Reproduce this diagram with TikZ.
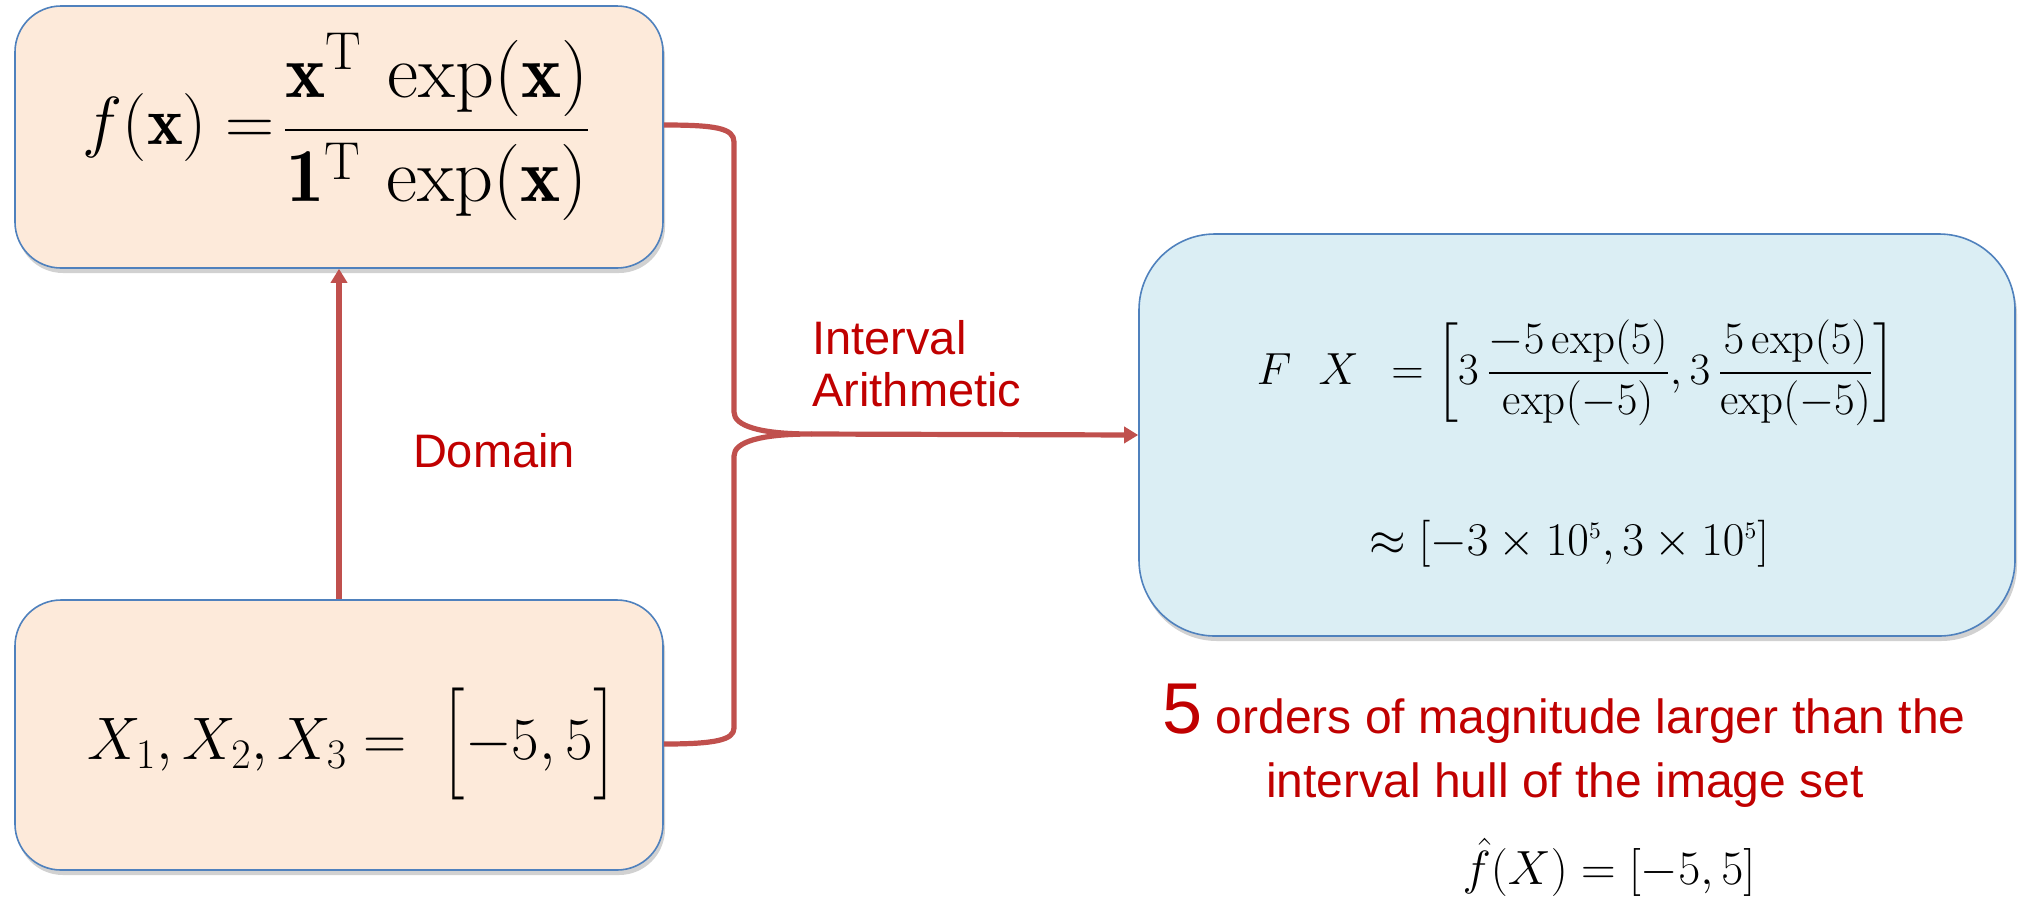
\RequirePackage{fix-cm}
\documentclass[tikz,border=0pt]{standalone}
\usepackage{amsmath}
\usepackage{fontspec}
\usepackage{graphicx}
\newfontfamily\arialf{Liberation Sans}
\usetikzlibrary{arrows.meta,shadows}
\definecolor{peach}{RGB}{253,234,218}
\definecolor{paleblue}{RGB}{219,238,244}
\definecolor{boxline}{RGB}{79,129,189}
\definecolor{connred}{RGB}{192,80,77}
\definecolor{textred}{RGB}{192,0,0}
\newcommand{\tallbrL}{\mathopen{\vcenter{\hbox{\scalebox{1}[1.25]{$\bigl[$}}}}}
\newcommand{\tallbrR}{\mathclose{\vcenter{\hbox{\scalebox{1}[1.25]{$\bigr]$}}}}}
\begin{document}
\begin{tikzpicture}[x=0.5pt,y=-0.5pt,
  shadowed/.style={drop shadow={shadow xshift=1pt,shadow yshift=-2.5pt,fill=black,opacity=0.18}},
  peachbox/.style={draw=boxline,line width=0.8pt,fill=peach,rounded corners=23pt,inner sep=0pt,shadowed},
  bluebox/.style={draw=boxline,line width=0.8pt,fill=paleblue,rounded corners=38pt,inner sep=0pt,shadowed},
  conn/.style={draw=connred,line width=2.6pt},
  tipped/.style={-{Triangle[length=7pt,width=8pt]}},
  redlabel/.style={text=textred,font=\arialf\fontsize{23.5}{26}\selectfont,inner sep=0pt},
  mathlabel/.style={inner sep=0pt}]
\useasboundingbox (0,0) rectangle (2018,896);

% boxes
\node[peachbox,minimum width=324pt,minimum height=131pt] (top) at (339,137) {};
\node[peachbox,minimum width=324pt,minimum height=135pt] (bot) at (339,735) {};
\node[bluebox,minimum width=438pt,minimum height=201pt] (res) at (1577,435) {};

% formulas in boxes
\node[mathlabel] (ftop) at (337,127) {\fontsize{34}{40}\selectfont
  $f(\mathbf{x})=\!\vcenter{\hbox{\scalebox{1.12}{$\dfrac{\mathbf{x}^{\mathrm{T}}\,\exp(\mathbf{x})}{\mathbf{1}^{\mathrm{T}}\,\exp(\mathbf{x})}$}}}$};
\node[mathlabel] (fbot) at (352,744) {\fontsize{30}{36}\selectfont
  $X_{1},X_{2},X_{3}=\ \tallbrL-5,5\tallbrR$};
\node[mathlabel] (fres1) at (1576,373) {\fontsize{22.5}{27}\selectfont
  $F\hspace{0.6em}X\hspace{0.45em}=\left[3\,\dfrac{-5\exp(5)}{\exp(-5)},3\,\dfrac{5\exp(5)}{\exp(-5)}\right]$};
\node[mathlabel] (fres2) at (1569,544) {\fontsize{23.5}{28}\selectfont
  $\approx[-3\times10^{\scriptscriptstyle 5},3\times10^{\scriptscriptstyle 5}]$};

% connectors
\draw[conn,tipped] (bot.north) -- (top.south);
\coordinate (tip) at (811,434);
\draw[conn,line join=round] ([yshift=6pt]top.east) .. controls (715,125) and (734,128) .. (734,142)
  -- (734,412) .. controls (734,426) and (760,434) .. (tip)
  .. controls (760,434) and (734,442) .. (734,456)
  -- (734,728) .. controls (734,740) and (715,744) .. ([yshift=-4.5pt]bot.east);
\draw[conn,tipped] (tip) -- (res.west);

% labels
\node[redlabel] (domain) at (494,451) {Domain};
\node[redlabel,anchor=west,align=left] (ia) at (812,364) {Interval\\Arithmetic};

% note below
\node[anchor=base,inner sep=0pt,text=textred] (note1) at (1564,733)
  {\arialf\fontsize{36}{40}\selectfont 5\fontsize{24}{28}\selectfont\ orders of magnitude larger than the};
\node[anchor=base,inner sep=0pt,text=textred,font=\arialf\fontsize{24}{28}\selectfont] (note2) at (1565,797)
  {interval hull of the image set};
\node[anchor=base,inner sep=0pt] (hull) at (1609,884) {\fontsize{24}{29}\selectfont
  $\hat{f}(X)=[-5,5]$};
\end{tikzpicture}
\end{document}
